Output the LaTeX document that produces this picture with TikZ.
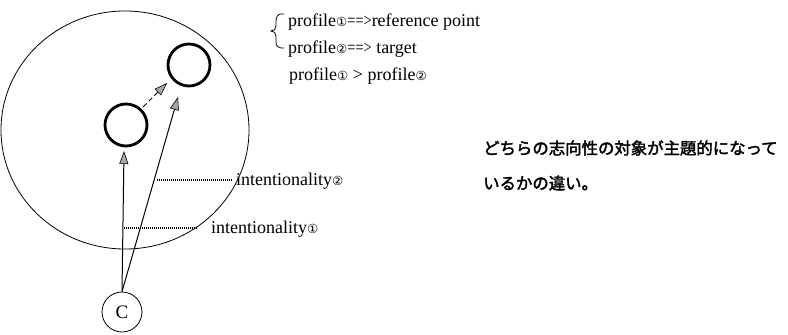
\documentclass[tikz,border=0pt]{standalone}
\usepackage{fontspec}
\setmainfont{Liberation Serif}
\newfontfamily\dejavu{DejaVu Sans}
\newfontfamily\cjk[FakeBold=2.2]{Noto Sans CJK JP}
\usetikzlibrary{arrows.meta}
\newcommand\cdone{{\fontsize{12.5}{12.5}\selectfont\dejavu ①}}
\newcommand\cdtwo{{\fontsize{12.5}{12.5}\selectfont\dejavu ②}}
\newcommand\imply{\scalebox{0.8}[1]{==>}}
\tikzset{
  thin circ/.style={draw, line width=0.8pt},
  thick circ/.style={circle, draw, line width=2.8pt, minimum size=42pt, inner sep=0pt},
  tipgray/.style={-{Triangle[length=13pt,width=9pt,fill=gray!70,line width=0.6pt]}},
  conn/.style={line width=1pt, tipgray},
  lbl/.style={anchor=west, inner sep=0pt, font=\fontsize{18}{18}\selectfont},
  jp/.style={anchor=west, inner sep=0pt, font=\fontsize{16.4}{16.4}\selectfont\cjk},
  dots/.style={line width=1.1pt, dash pattern=on 1pt off 1pt},
}
\begin{document}
\begin{tikzpicture}[x=1pt,y=-1pt]
\useasboundingbox (0,0) rectangle (788,335);
% big circle
\draw[thin circ] (125,130) ellipse [x radius=124, y radius=119];
% small circles
\node[thick circ] (p1) at (126,125) {};
\node[thick circ] (p2) at (189,65) {};
% C node
\node[circle, draw, line width=0.8pt, minimum size=40pt, inner sep=0pt, font=\fontsize{19}{19}\selectfont] (c) at (122,312) {C};
% arrows
\coordinate (a1) at (124,151);
\coordinate (a2) at (178,97);
\draw[conn] (c.north) -- (a1);
\draw[conn] (c.north) -- (a2);
\coordinate (d0) at (143,107);
\coordinate (d1) at (167,83);
\draw[line width=1pt, dash pattern=on 5pt off 3pt, tipgray] (d0) -- (d1);
% dotted leaders
\coordinate (l2a) at (157,180);
\coordinate (l2b) at (232,180);
\coordinate (l1a) at (124,228);
\coordinate (l1b) at (197,228);
\draw[dots] (l2a) -- (l2b);
\draw[dots] (l1a) -- (l1b);
\node[lbl] (i2) at (236,181) {intentionality\cdtwo};
\node[lbl] (i1) at (211,229) {intentionality\cdone};
% brace
\draw[line width=0.8pt] (284,14) -- (281,14) .. controls (278,14) and (276,17) .. (276,21)
  -- (276,26) .. controls (276,29) and (274,31) .. (271,31)
  .. controls (274,31) and (276,33) .. (276,36)
  -- (276,42) .. controls (276,46) and (278,48) .. (281,48) -- (284,48);
\node[lbl] (t1) at (288,22) {profile\cdone\imply reference point};
\node[lbl] (t2) at (288,49) {profile\cdtwo\imply\ target};
\node[lbl] (t3) at (289,76) {profile\cdone\ > profile\cdtwo};
% Japanese
\node[jp] (j1) at (483,148) {どちらの志向性の対象が主題的になって};
\node[jp] (j2) at (483,183) {いるかの違い。};
\end{tikzpicture}
\end{document}
